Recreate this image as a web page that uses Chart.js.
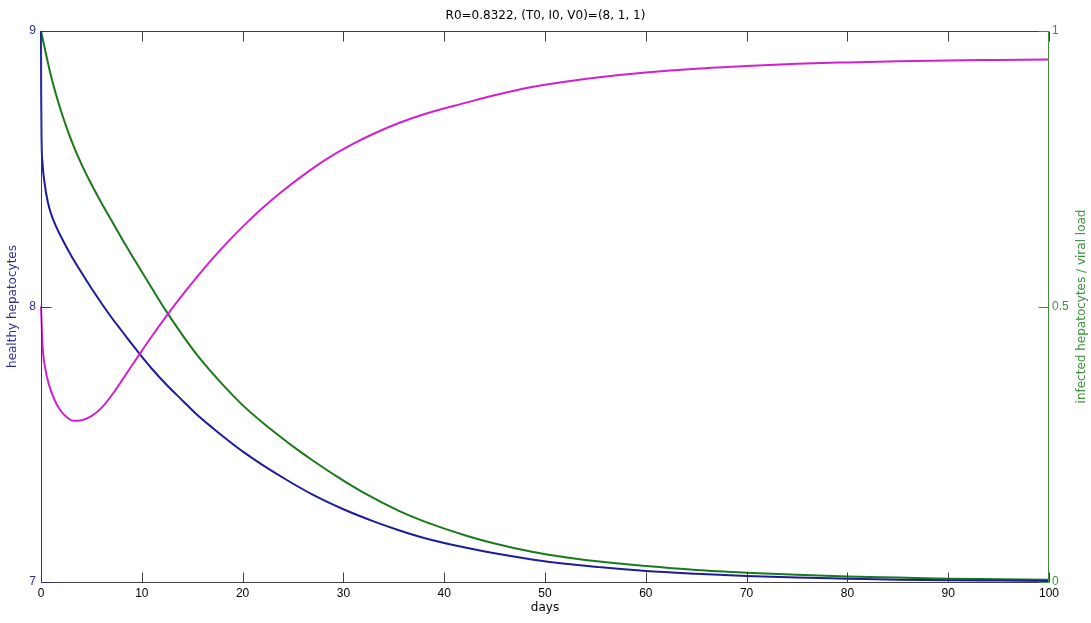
<!DOCTYPE html>
<html><head><meta charset="utf-8">
<script src="https://cdn.jsdelivr.net/npm/chart.js@4.4.1/dist/chart.umd.min.js"></script>
<style>html,body{margin:0;padding:0;background:#fff}#wrap{width:1091px;height:623px}</style>
</head><body><div id="wrap"><canvas id="c" width="1091" height="623"></canvas></div>
<script>
// ---- data ----
const titleText = 'R0=0.8322, (T0, I0, V0)=(8, 1, 1)';
const xTitle = 'days';
const leftTitle = 'healthy hepatocytes';
const rightTitle = 'infected hepatocytes / viral load';
const xTicks = [0,10,20,30,40,50,60,70,80,90,100];
const leftTicks = [7,8,9];
const rightTicks = [0,0.5,1];

// healthy hepatocytes (left axis)
const tHealthy = [0,0.15,0.4,0.8,1.3,1.8,2.5,3.3,4,5,6,7,8,9,10,11,12.4,14,15.4,17,18.7,20.3,22,24,26,28.6,31,33,35.5,38,42.2,45,48.7,52,55.4,60,65,70,75,80,85,90,95,100];
const healthy  = [8.0,7.86,7.78,7.715,7.665,7.63,7.60,7.585,7.587,7.602,7.632,7.677,7.73,7.785,7.839,7.892,7.963,8.04,8.104,8.173,8.241,8.30,8.358,8.42,8.476,8.541,8.591,8.627,8.666,8.698,8.74,8.767,8.797,8.816,8.832,8.849,8.863,8.873,8.881,8.886,8.89,8.893,8.895,8.897];

// infected hepatocytes (right axis)
const tInfected = [0,0.02,0.06,0.15,0.35,0.67,1,1.5,2,3,4,5,6,7,8,9,10,11,12.5,14,15.4,17,18.7,20,22,24.3,27,30,33,35.5,38,42.2,45,48.7,52,55.4,60,65,70,75,80,85,90,95,100];
const infected  = [1.0,0.88,0.80,0.76,0.725,0.69,0.668,0.645,0.626,0.592,0.562,0.533,0.506,0.48,0.456,0.432,0.409,0.387,0.357,0.33,0.305,0.28,0.255,0.237,0.212,0.186,0.158,0.132,0.110,0.094,0.080,0.062,0.052,0.041,0.033,0.027,0.020,0.015,0.011,0.008,0.006,0.004,0.003,0.0025,0.002];

// viral load (right axis)
const tViral = [0,1,2,3,4,5,6,7,8,9,10,11,12.4,14,15.4,17,18.7,20,22,24,25.3,27,29.3,32,35.5,38,42.2,45,48.7,52,55.4,60,65,70,75,80,85,90,95,100];
const viral  = [1.0,0.918,0.854,0.802,0.759,0.722,0.688,0.656,0.624,0.593,0.563,0.533,0.492,0.449,0.414,0.379,0.345,0.321,0.289,0.26,0.242,0.22,0.192,0.162,0.129,0.11,0.084,0.07,0.055,0.045,0.037,0.029,0.022,0.017,0.013,0.010,0.008,0.006,0.005,0.004];

// ---- styles ----
const TICKFONT = 'Liberation Sans, Arial, Helvetica, sans-serif';
const TEXTFONT = 'DejaVu Sans, Verdana, sans-serif';
const leftColor = '#2e2e99';
const rightColor = '#3f8f3f';
const frameColor = '#404040';
const cHealthy = '#d020d0';
const cInfected = '#1c1c9c';
const cViral = '#1a7a1a';
const TICK = 10;

const pts = (xs, ys) => xs.map((x, i) => ({x: x, y: ys[i]}));

const framePlugin = {
  id: 'frame',
  afterDraw(chart) {
    const {ctx, chartArea: {left, right, top, bottom}, scales: {x, y, y2}} = chart;
    const L = left + 0.5, R = right - 0.5, T = top + 0.5, B = bottom + 0.5;
    const seg = (x1, y1, x2, y2_) => { ctx.beginPath(); ctx.moveTo(x1, y1); ctx.lineTo(x2, y2_); ctx.stroke(); };
    ctx.save();
    ctx.lineWidth = 1;
    ctx.strokeStyle = frameColor;
    seg(L, T, R, T);
    seg(L, B, R, B);
    xTicks.forEach(v => {
      const px = Math.round(x.getPixelForValue(v)) + 0.5;
      seg(px, T, px, T + TICK);
      seg(px, B, px, B - TICK);
    });
    ctx.strokeStyle = leftColor;
    seg(L, T, L, B);
    leftTicks.forEach(v => {
      const py = Math.round(y.getPixelForValue(v)) + 0.5;
      seg(L, py, L + TICK, py);
    });
    ctx.strokeStyle = rightColor;
    seg(R, T, R, B);
    rightTicks.forEach(v => {
      const py = Math.round(y2.getPixelForValue(v)) + 0.5;
      seg(R, py, R - TICK, py);
    });
    // right axis title, reading bottom-to-top like the reference
    ctx.fillStyle = rightColor;
    ctx.font = '12px ' + TEXTFONT;
    ctx.textAlign = 'center';
    ctx.textBaseline = 'middle';
    ctx.translate(1082, (top + bottom) / 2);
    ctx.rotate(-Math.PI / 2);
    ctx.fillText(rightTitle, 0, 0);
    ctx.restore();
  }
};

new Chart(document.getElementById('c'), {
  type: 'line',
  data: {
    datasets: [
      {label: 'healthy', data: pts(tHealthy, healthy), yAxisID: 'y', borderColor: cHealthy, borderWidth: 2, pointRadius: 0, cubicInterpolationMode: 'monotone', clip: 4},
      {label: 'infected', data: pts(tInfected, infected), yAxisID: 'y2', borderColor: cInfected, borderWidth: 2, pointRadius: 0, cubicInterpolationMode: 'monotone', clip: 4},
      {label: 'viral', data: pts(tViral, viral), yAxisID: 'y2', borderColor: cViral, borderWidth: 2, pointRadius: 0, cubicInterpolationMode: 'monotone', clip: 4}
    ]
  },
  options: {
    responsive: false,
    animation: false,
    devicePixelRatio: 1,
    layout: {padding: 0},
    plugins: {
      legend: {display: false},
      tooltip: {enabled: false},
      title: {display: true, text: titleText, color: '#000', font: {family: TEXTFONT, size: 12, weight: 'normal', lineHeight: 1.2}, padding: {top: 9, bottom: 7.6}}
    },
    scales: {
      x: {
        type: 'linear', position: 'bottom', min: 0, max: 100,
        afterBuildTicks: s => { s.ticks = xTicks.map(v => ({value: v})); },
        afterFit: s => { s.height = 41; },
        grid: {display: false, drawTicks: false},
        border: {display: false},
        ticks: {color: '#000', font: {family: TICKFONT, size: 12}, padding: 4, maxRotation: 0, autoSkip: false},
        title: {display: true, text: xTitle, color: '#000', font: {family: TEXTFONT, size: 12}, padding: {top: 0, bottom: 7.8}}
      },
      y: {
        type: 'linear', position: 'left', min: 7, max: 9,
        afterBuildTicks: s => { s.ticks = leftTicks.map(v => ({value: v})); },
        afterFit: s => { s.width = 41; },
        grid: {display: false, drawTicks: false},
        border: {display: false},
        ticks: {color: leftColor, font: {family: TICKFONT, size: 12}, padding: 5},
        title: {display: true, text: leftTitle, color: leftColor, font: {family: TEXTFONT, size: 12}, padding: {top: 6, bottom: 0}}
      },
      y2: {
        type: 'linear', position: 'right', min: 0, max: 1,
        afterBuildTicks: s => { s.ticks = rightTicks.map(v => ({value: v})); },
        afterFit: s => { s.width = 42; },
        grid: {display: false, drawTicks: false},
        border: {display: false},
        ticks: {color: rightColor, font: {family: TICKFONT, size: 12}, padding: 3, callback: v => String(v)}
      }
    }
  },
  plugins: [framePlugin]
});
</script>
</body></html>
